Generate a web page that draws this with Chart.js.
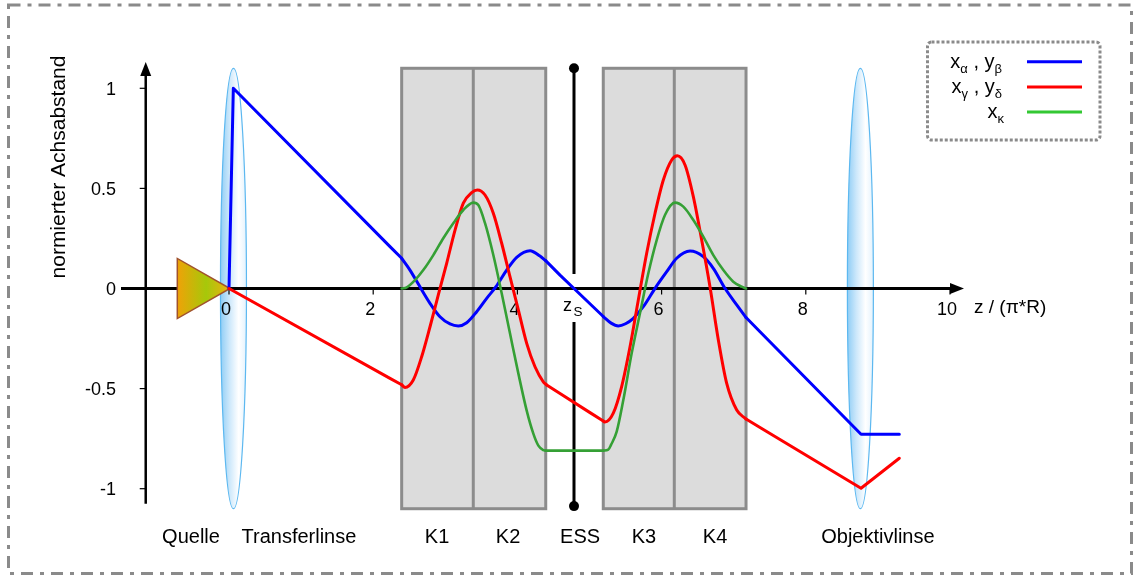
<!DOCTYPE html>
<html>
<head>
<meta charset="utf-8">
<script src="https://cdn.jsdelivr.net/npm/chart.js@4.4.1/dist/chart.umd.min.js"></script>
<style>
  html, body { margin: 0; padding: 0; background: #fff; }
  #wrap { width: 1133px; height: 579px; position: relative; }
</style>
</head>
<body>
<div id="wrap"><canvas id="c"></canvas></div>
<script>
// z in units of π*R, normalized axis distance.
// Each trajectory is split into drift pieces (straight) and quadrupole pieces (curved).

// x_α , y_β
const blueDrift1 = [[0, 0], [0.06, 1.0], [2.233, 0.209], [2.395, 0.151]];
const blueQuad12 = [[2.395, 0.151], [2.51, 0.092], [2.626, 0.022], [2.788, -0.074], [2.926, -0.141],
  [3.065, -0.177], [3.18, -0.187], [3.297, -0.171], [3.435, -0.116], [3.574, -0.049], [3.703, 0.009],
  [3.851, 0.092], [3.99, 0.156], [4.175, 0.189], [4.313, 0.162], [4.392, 0.139]];
const blueDrift2 = [[4.392, 0.139], [4.591, 0.067], [4.785, 0.0], [5.191, -0.14]];
const blueQuad34 = [[5.191, -0.14], [5.30, -0.173], [5.399, -0.187], [5.5, -0.176], [5.608, -0.149],
  [5.746, -0.091], [5.909, 0.001], [6.071, 0.084], [6.209, 0.151], [6.394, 0.187], [6.578, 0.159],
  [6.717, 0.101], [6.879, 0.001], [7.042, -0.082], [7.171, -0.145]];
const blueDrift3 = [[7.171, -0.145], [7.365, -0.216], [8.766, -0.728], [9.297, -0.728]];

// x_γ , y_δ
const redDrift1 = [[0, 0], [2.233, -0.449], [2.395, -0.481]];
const redQuad12 = [[2.395, -0.481], [2.441, -0.494], [2.556, -0.457], [2.672, -0.341], [2.788, -0.191],
  [2.903, -0.032], [3.019, 0.126], [3.135, 0.292], [3.25, 0.426], [3.366, 0.479], [3.444, 0.492],
  [3.551, 0.467], [3.666, 0.376], [3.782, 0.226], [3.897, 0.059], [4.013, -0.107], [4.129, -0.274],
  [4.244, -0.391], [4.359, -0.466], [4.406, -0.482]];
const redDrift2 = [[4.406, -0.482], [4.591, -0.525], [5.007, -0.62], [5.191, -0.662]];
const redQuad34 = [[5.191, -0.662], [5.215, -0.667], [5.33, -0.623], [5.446, -0.49], [5.562, -0.291],
  [5.677, -0.057], [5.793, 0.176], [5.909, 0.376], [6.024, 0.542], [6.14, 0.642], [6.218, 0.663],
  [6.325, 0.617], [6.44, 0.459], [6.556, 0.242], [6.671, 0.009], [6.787, -0.257], [6.903, -0.474],
  [7.042, -0.607], [7.157, -0.648], [7.171, -0.652]];
const redDrift3 = [[7.171, -0.652], [7.365, -0.694], [8.766, -0.998], [9.297, -0.848]];

// x_κ
const greenQuad12 = [[2.395, 0.0], [2.465, 0.006], [2.58, 0.042], [2.695, 0.092], [2.834, 0.167],
  [2.972, 0.251], [3.111, 0.326], [3.25, 0.392], [3.388, 0.429], [3.458, 0.417], [3.551, 0.326],
  [3.666, 0.167], [3.782, -0.024], [3.897, -0.224], [4.013, -0.424], [4.129, -0.61], [4.221, -0.725],
  [4.291, -0.785], [4.36, -0.807], [4.393, -0.81]];
const greenDrift = [[4.393, -0.81], [5.191, -0.81]];
const greenQuad34 = [[5.191, -0.81], [5.26, -0.805], [5.30, -0.78], [5.377, -0.715], [5.469, -0.557],
  [5.585, -0.324], [5.7, -0.124], [5.816, 0.076], [5.932, 0.242], [6.047, 0.367], [6.186, 0.429],
  [6.301, 0.409], [6.44, 0.342], [6.578, 0.259], [6.717, 0.167], [6.856, 0.092], [6.994, 0.034],
  [7.11, 0.009], [7.171, 0.0]];

// axis ticks
const xTicks = [0, 2, 4, 6, 8, 10];
const yTicks = [1, 0.5, 0, -0.5, -1];
const yTickLabels = ['1', '0.5', '0', '-0.5', '-1'];

// optical elements along z
const quadPairs = [[2.395, 3.388, 4.393], [5.191, 6.176, 7.171]];
const lensPositions = [0.062, 8.757];
const essPosition = 4.785;
const elementLabels = [
  ['Quelle', -0.527], ['Transferlinse', 0.97], ['K1', 2.886], ['K2', 3.87], ['ESS', 4.87],
  ['K3', 5.756], ['K4', 6.741], ['Objektivlinse', 9.0]
];

const BLUE = '#0000ff', RED = '#ff0000', GREEN = '#35a035';
const FONT = '"Liberation Sans", Arial, sans-serif';

function piece(points, color, curved, width) {
  return {
    data: points.map(([x, y]) => ({ x, y })),
    borderColor: color,
    borderWidth: width || 3,
    pointRadius: 0,
    fill: false,
    tension: 0,
    cubicInterpolationMode: curved ? 'monotone' : 'default',
    borderCapStyle: 'round',
    borderJoinStyle: 'round'
  };
}

const datasets = [
  piece(greenQuad12, GREEN, true, 2.6), piece(greenDrift, GREEN, false, 2.6), piece(greenQuad34, GREEN, true, 2.6),
  piece(redDrift1, RED, false), piece(redQuad12, RED, true), piece(redDrift2, RED, false),
  piece(redQuad34, RED, true), piece(redDrift3, RED, false),
  piece(blueDrift1, BLUE, false), piece(blueQuad12, BLUE, true), piece(blueDrift2, BLUE, false),
  piece(blueQuad34, BLUE, true), piece(blueDrift3, BLUE, false)
];

function drawSubText(ctx, parts, right, baseline) {
  // parts: [text, isSubscript]
  let total = 0;
  const widths = parts.map(([t, sub]) => {
    ctx.font = (sub ? '13px ' : '20px ') + FONT;
    const w = ctx.measureText(t).width;
    total += w;
    return w;
  });
  let x = right - total;
  parts.forEach(([t, sub], i) => {
    ctx.font = (sub ? '13px ' : '20px ') + FONT;
    ctx.fillText(t, x, baseline + (sub ? 5 : 0));
    x += widths[i];
  });
}

const scene = {
  id: 'scene',
  beforeDatasetsDraw(chart) {
    const { ctx, scales: { x, y } } = chart;
    const X = v => x.getPixelForValue(v), Y = v => y.getPixelForValue(v);
    const y0 = Y(0);
    ctx.save();

    // dash-dot frame
    ctx.strokeStyle = '#8a8a8a';
    ctx.lineWidth = 3;
    ctx.setLineDash([12, 7, 4, 7]);
    ctx.strokeRect(8.5, 5, 1123, 568.5);
    ctx.setLineDash([]);

    // quadrupole pairs
    quadPairs.forEach(([a, m, b]) => {
      ctx.fillStyle = '#dcdcdc';
      ctx.fillRect(X(a), Y(1.1), X(b) - X(a), Y(-1.1) - Y(1.1));
      ctx.strokeStyle = '#8c8c8c';
      ctx.lineWidth = 3;
      ctx.strokeRect(X(a), Y(1.1), X(b) - X(a), Y(-1.1) - Y(1.1));
      ctx.beginPath();
      ctx.moveTo(X(m), Y(1.1));
      ctx.lineTo(X(m), Y(-1.1));
      ctx.stroke();
    });

    // lenses
    lensPositions.forEach(z => {
      const cx = X(z), ry = Y(-1.1) - y0, rx = 13;
      const g = ctx.createLinearGradient(cx - rx, 0, cx + rx, 0);
      g.addColorStop(0, '#8fcdf5');
      g.addColorStop(0.35, '#cde8fb');
      g.addColorStop(0.7, '#ffffff');
      g.addColorStop(1, '#e3f2fd');
      ctx.beginPath();
      ctx.ellipse(cx, y0, rx, ry, 0, 0, Math.PI * 2);
      ctx.fillStyle = g;
      ctx.fill();
      ctx.strokeStyle = '#5cb8f0';
      ctx.lineWidth = 1.2;
      ctx.stroke();
    });

    // ESS marker line with end dots
    const ex = X(essPosition);
    ctx.strokeStyle = '#000';
    ctx.fillStyle = '#000';
    ctx.lineWidth = 3;
    ctx.beginPath();
    ctx.moveTo(ex, Y(1.1)); ctx.lineTo(ex, Y(0.072));
    ctx.moveTo(ex, Y(-0.167)); ctx.lineTo(ex, Y(-1.087));
    ctx.stroke();
    [1.1, -1.087].forEach(v => {
      ctx.beginPath();
      ctx.arc(ex, Y(v), 5, 0, Math.PI * 2);
      ctx.fill();
    });

    // z axis with arrow
    ctx.lineWidth = 3;
    ctx.beginPath();
    ctx.moveTo(121, y0);
    ctx.lineTo(953, y0);
    ctx.stroke();
    ctx.beginPath();
    ctx.moveTo(964, y0); ctx.lineTo(950, y0 - 5.5); ctx.lineTo(950, y0 + 5.5); ctx.closePath();
    ctx.fill();

    // vertical axis with arrow
    const ax = X(-1.155);
    ctx.lineWidth = 2.5;
    ctx.beginPath();
    ctx.moveTo(ax, Y(-1.075));
    ctx.lineTo(ax, Y(1.075));
    ctx.stroke();
    ctx.beginPath();
    ctx.moveTo(ax, 62); ctx.lineTo(ax - 5.5, 76); ctx.lineTo(ax + 5.5, 76); ctx.closePath();
    ctx.fill();

    // ticks and tick labels
    ctx.lineWidth = 1.2;
    ctx.font = '18px ' + FONT;
    ctx.textAlign = 'right';
    ctx.textBaseline = 'middle';
    yTicks.forEach((v, i) => {
      ctx.beginPath();
      ctx.moveTo(ax - 6, Y(v)); ctx.lineTo(ax, Y(v)); ctx.stroke();
      ctx.fillText(yTickLabels[i], 116, Y(v) + 1.5);
    });
    ctx.textAlign = 'center';
    ctx.textBaseline = 'alphabetic';
    xTicks.forEach(v => {
      ctx.beginPath();
      ctx.moveTo(X(v), y0); ctx.lineTo(X(v), y0 + 6); ctx.stroke();
      ctx.fillText(String(v), X(v) - 3, 315);
    });
    ctx.textAlign = 'left';
    ctx.font = '19px ' + FONT;
    ctx.fillText('z / (\u03c0*R)', 974, 313);

    // z_S label
    ctx.font = '18px ' + FONT;
    ctx.fillText('z', 563, 311);
    ctx.font = '13.5px ' + FONT;
    ctx.fillText('S', 573.5, 316);

    // axis title
    ctx.save();
    ctx.translate(65, 167);
    ctx.rotate(-Math.PI / 2);
    ctx.font = '21px ' + FONT;
    ctx.textAlign = 'center';
    ctx.fillText('normierter Achsabstand', 0, 0);
    ctx.restore();

    // element names
    ctx.font = '20px ' + FONT;
    ctx.textAlign = 'center';
    elementLabels.forEach(([t, z]) => ctx.fillText(t, X(z), 543));

    // source triangle
    const tx0 = X(-0.717), tx1 = X(0.014);
    const tg = ctx.createLinearGradient(tx0, 0, tx1, 0);
    tg.addColorStop(0, '#efa208');
    tg.addColorStop(0.55, '#a6c80a');
    tg.addColorStop(1, '#eeb010');
    ctx.beginPath();
    ctx.moveTo(tx0, Y(0.15)); ctx.lineTo(tx0, Y(-0.15)); ctx.lineTo(tx1, y0); ctx.closePath();
    ctx.fillStyle = tg;
    ctx.fill();
    ctx.strokeStyle = '#a0522d';
    ctx.lineWidth = 1.5;
    ctx.stroke();

    ctx.restore();
  },
  afterDatasetsDraw(chart) {
    const { ctx } = chart;
    ctx.save();
    // legend box
    ctx.strokeStyle = '#8a8a8a';
    ctx.lineWidth = 3;
    ctx.setLineDash([3, 2]);
    ctx.beginPath();
    ctx.roundRect(927.5, 42, 172.5, 98, 4);
    ctx.stroke();
    ctx.setLineDash([]);
    ctx.fillStyle = '#000';
    ctx.textAlign = 'left';
    ctx.textBaseline = 'alphabetic';
    drawSubText(ctx, [['x', false], ['\u03b1', true], [' , ', false], ['y', false], ['\u03b2', true]], 1002, 68);
    drawSubText(ctx, [['x', false], ['\u03b3', true], [' , ', false], ['y', false], ['\u03b4', true]], 1002, 93);
    drawSubText(ctx, [['x', false], ['\u03ba', true]], 1004, 118);
    [[BLUE, 61.7], [RED, 87], ['#33c833', 112]].forEach(([c, yy]) => {
      ctx.strokeStyle = c;
      ctx.lineWidth = 3;
      ctx.beginPath();
      ctx.moveTo(1027, yy); ctx.lineTo(1082, yy);
      ctx.stroke();
    });
    ctx.restore();
  }
};

new Chart(document.getElementById('c'), {
  type: 'line',
  data: { datasets },
  options: {
    responsive: true,
    maintainAspectRatio: false,
    animation: false,
    events: [],
    layout: { padding: { left: 99.22, right: 110.9, top: 48.26, bottom: 40.25 } },
    plugins: { legend: { display: false }, tooltip: { enabled: false } },
    scales: {
      x: { type: 'linear', min: -1.8, max: 11, display: false },
      y: { type: 'linear', min: -1.25, max: 1.2, display: false }
    }
  },
  plugins: [scene]
});
</script>
</body>
</html>
